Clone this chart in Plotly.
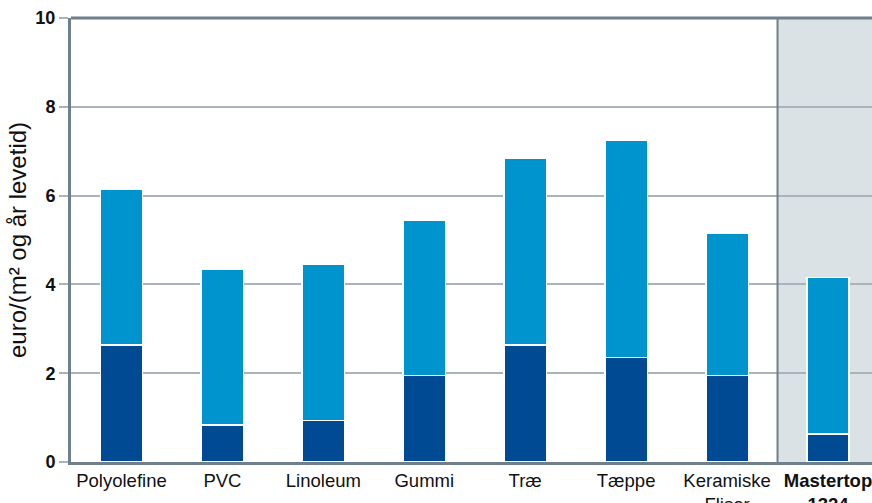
import plotly.graph_objects as go

categories = ["Polyolefine", "PVC", "Linoleum", "Gummi", "Træ", "Tæppe",
              "Keramiske<br>Fliser", "<b>Mastertop<br>1324</b>"]
lower_values = [2.64, 0.83, 0.93, 1.95, 2.64, 2.35, 1.95, 0.63]
totals = [6.15, 4.35, 4.45, 5.45, 6.85, 7.25, 5.15, 4.15]
upper_values = [t - l for t, l in zip(totals, lower_values)]
y_ticks = [0, 2, 4, 6, 8, 10]

x_idx = list(range(len(categories)))
axis_col = "#6f7f8b"
grid_col = "#a9b3ba"

fig = go.Figure()
fig.add_bar(x=x_idx, y=lower_values, marker=dict(color="#004a93", line=dict(color="white", width=1.5)),
            width=0.42, showlegend=False)
fig.add_bar(x=x_idx, y=upper_values, marker=dict(color="#0094cf", line=dict(color="white", width=1.5)),
            width=0.42, showlegend=False)

fig.add_shape(type="rect", xref="x", yref="paper", x0=6.5, x1=7.6, y0=0, y1=1,
              fillcolor="#dbe2e6", line=dict(width=0), layer="below")
fig.add_shape(type="line", xref="x", yref="paper", x0=6.5, x1=6.5, y0=0, y1=1,
              line=dict(color=axis_col, width=2), layer="above")
fig.add_shape(type="line", xref="paper", yref="paper", x0=0, x1=1, y0=1, y1=1,
              line=dict(color=axis_col, width=3), layer="above")

fig.update_layout(
    width=872, height=503,
    margin=dict(l=71, r=0, t=18, b=41),
    barmode="stack",
    plot_bgcolor="white", paper_bgcolor="white",
    font=dict(family="Liberation Sans, Arial, sans-serif", color="#111111", size=17),
)
fig.update_xaxes(
    range=[-0.5, 7.436], tickvals=x_idx, ticktext=categories, tickangle=0,
    showgrid=False, showline=True, linecolor=axis_col, linewidth=3,
    ticks="", tickfont=dict(size=18.5), automargin=False, zeroline=False,
    ticklabeloverflow="allow",
)
fig.update_yaxes(
    range=[0, 10], tickvals=y_ticks, ticktext=[f"<b>{v}</b>" for v in y_ticks],
    showgrid=True, gridcolor=grid_col, gridwidth=1.5,
    showline=True, linecolor=axis_col, linewidth=3,
    ticks="outside", ticklen=9, tickcolor=grid_col, tickwidth=1.5,
    tickfont=dict(size=18), zeroline=False, automargin=False,
    title=dict(text="euro/(m² og år levetid)", font=dict(size=24), standoff=2),
)
fig.write_html(
    "out.html",
    config={"displayModeBar": False},
    post_script="document.body.style.margin='0';document.body.style.overflow='hidden';",
)
